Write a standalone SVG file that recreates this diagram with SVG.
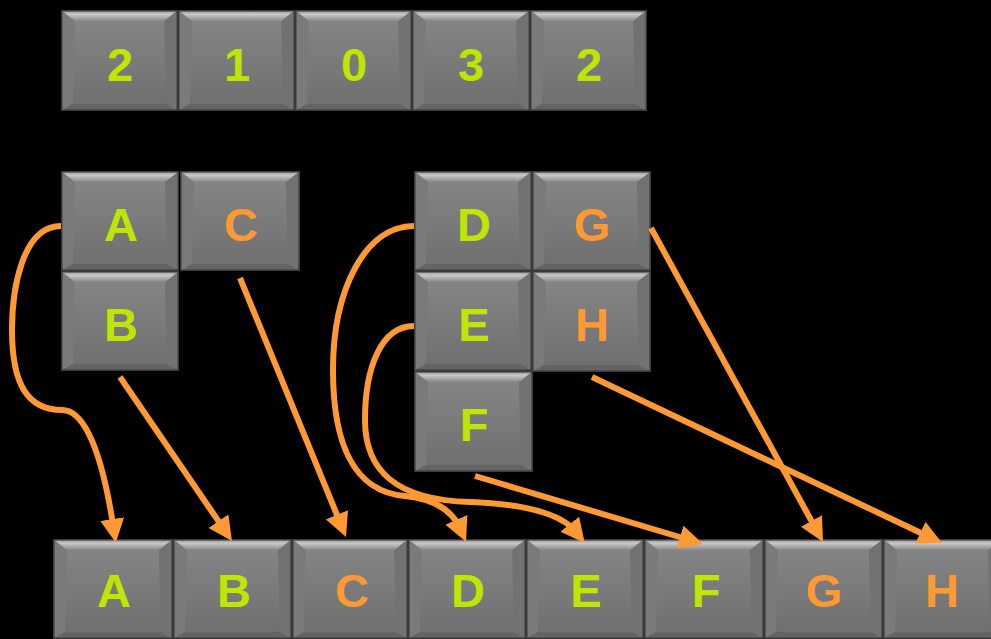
<svg xmlns="http://www.w3.org/2000/svg" xmlns:xlink="http://www.w3.org/1999/xlink" width="991" height="639" viewBox="0 0 991 639">
<style>
  .lbl { font-family: "Liberation Sans", Arial, sans-serif; font-weight: bold; font-size: 47px; text-anchor: middle; }
  .g { fill: #bde600; }
  .o { fill: #ff9933; }
  .arr { fill: none; stroke: #ff9933; stroke-width: 6; marker-end: url(#head); }
</style>
<defs>
  <linearGradient id="body" x1="0" y1="0" x2="0" y2="1">
    <stop offset="0" stop-color="#878787"/>
    <stop offset="1" stop-color="#6e6e6e"/>
  </linearGradient>
  <linearGradient id="topBev" x1="0" y1="0" x2="0" y2="1">
    <stop offset="0" stop-color="#8e8e8e"/>
    <stop offset="0.4" stop-color="#c8c8c8"/>
    <stop offset="1" stop-color="#878787"/>
  </linearGradient>
  <symbol id="key" viewBox="0 0 118 100" preserveAspectRatio="none">
    <rect x="0" y="0" width="118" height="100" fill="url(#body)"/>
    <polygon points="0,0 14,11 12,93 0,100" fill="#7a7a7a"/>
    <polygon points="118,0 104,11 106,93 118,100" fill="#727272"/>
    <polygon points="0,100 12,93 106,93 118,100" fill="#646464"/>
    <polygon points="0,0 118,0 104,11 14,11" fill="url(#topBev)"/>
    <rect x="0.75" y="0.75" width="116.5" height="98.5" fill="none" stroke="#3a3a3a" stroke-width="1.5"/>
  </symbol>
  <marker id="head" markerUnits="userSpaceOnUse" markerWidth="24" markerHeight="24" refX="10" refY="12" orient="auto" viewBox="0 0 24 24">
    <path d="M0,0 L24,12 L0,24 z" fill="#ff9933"/>
  </marker>
</defs>
<rect x="0" y="0" width="991" height="639" fill="#000"/>

<g id="top-row">
  <g id="n-top-0"><use href="#key" x="61" y="10" width="117" height="101"/><text class="lbl g" x="120" y="81">2</text></g>
  <g id="n-top-1"><use href="#key" x="178" y="10" width="117" height="101"/><text class="lbl g" x="237" y="81">1</text></g>
  <g id="n-top-2"><use href="#key" x="295" y="10" width="117" height="101"/><text class="lbl g" x="354" y="81">0</text></g>
  <g id="n-top-3"><use href="#key" x="412" y="10" width="118" height="101"/><text class="lbl g" x="471" y="81">3</text></g>
  <g id="n-top-4"><use href="#key" x="530" y="10" width="117" height="101"/><text class="lbl g" x="589" y="81">2</text></g>
</g>

<g id="mid-nodes">
  <g id="n-A"><use href="#key" x="61" y="171" width="118" height="100"/><text class="lbl g" x="121" y="241">A</text></g>
  <g id="n-B"><use href="#key" x="61" y="271" width="118" height="100"/><text class="lbl g" x="121" y="341">B</text></g>
  <g id="n-C"><use href="#key" x="180" y="171" width="120" height="100"/><text class="lbl o" x="241" y="241">C</text></g>
  <g id="n-D"><use href="#key" x="414" y="171" width="118" height="100"/><text class="lbl g" x="474" y="241">D</text></g>
  <g id="n-G"><use href="#key" x="532" y="171" width="119" height="100"/><text class="lbl o" x="592" y="241">G</text></g>
  <g id="n-E"><use href="#key" x="414" y="271" width="118" height="100"/><text class="lbl g" x="474" y="341">E</text></g>
  <g id="n-H"><use href="#key" x="532" y="271" width="119" height="101"/><text class="lbl o" x="592" y="341">H</text></g>
  <g id="n-F"><use href="#key" x="414" y="371" width="119" height="101"/><text class="lbl g" x="474" y="441">F</text></g>
</g>

<g id="bottom-row">
  <g id="b-A"><use href="#key" x="53" y="539" width="120" height="100"/><text class="lbl g" x="114" y="607">A</text></g>
  <g id="b-B"><use href="#key" x="173" y="539" width="119" height="100"/><text class="lbl g" x="234" y="607">B</text></g>
  <g id="b-C"><use href="#key" x="292" y="539" width="116" height="100"/><text class="lbl o" x="352" y="607">C</text></g>
  <g id="b-D"><use href="#key" x="408" y="539" width="118" height="100"/><text class="lbl g" x="468" y="607">D</text></g>
  <g id="b-E"><use href="#key" x="526" y="539" width="118" height="100"/><text class="lbl g" x="586" y="607">E</text></g>
  <g id="b-F"><use href="#key" x="644" y="539" width="120" height="100"/><text class="lbl g" x="706" y="607">F</text></g>
  <g id="b-G"><use href="#key" x="764" y="539" width="119" height="100"/><text class="lbl o" x="824" y="607">G</text></g>
  <g id="b-H"><use href="#key" x="883" y="539" width="119" height="100"/><text class="lbl o" x="942" y="607">H</text></g>
</g>

<g id="connectors">
  <path class="arr" d="M61,226 C22,226 12,290 12,330 C12,385 28,410 62,410 C88,410 104,465 113.7,529"/>
  <path class="arr" d="M120,377 L224.1,529.4"/>
  <path class="arr" d="M240,278 L340.7,524"/>
  <path class="arr" d="M414,226 C365,226 333,290 333,370 C333,440 352,492 405,496 C435,499 452,510 460.4,529"/>
  <path class="arr" d="M414,326 C380,326 365,370 365,420 C365,470 395,500 470,502 C520,504 560,512 576,532"/>
  <path class="arr" d="M475,476 L689.6,540"/>
  <path class="arr" d="M651,228 L816.3,529.7"/>
  <path class="arr" d="M592,377 L929.4,537"/>
</g>
</svg>
